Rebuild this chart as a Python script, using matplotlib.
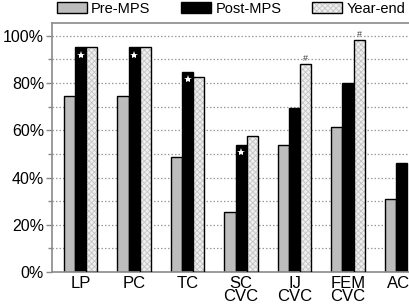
import numpy as np
import matplotlib.pyplot as plt
import matplotlib.transforms as mtransforms
from matplotlib.patches import Patch
from matplotlib.legend_handler import HandlerTuple

plt.rcParams['font.family'] = ['Liberation Sans', 'DejaVu Sans']
plt.rcParams['hatch.linewidth'] = 0.6

groups = ['LP', 'PC', 'TC', 'SC\nCVC', 'IJ\nCVC', 'FEM\nCVC', 'AC']
pre_mps = [74.4, 74.4, 48.5, 25.3, 53.8, 61.4, 30.7]
post_mps = [95.0, 95.0, 84.8, 53.8, 69.6, 79.8, 46.2]
year_end = [95.0, 95.0, 82.7, 57.4, 87.8, 98.0, np.nan]
star_on_post = [True, True, True, True, False, False, False]
hash_on_year = [False, False, False, False, True, True, False]

x = np.arange(len(groups))
w = 0.208
pre_col = '#bdbdbd'
ye_col = '#efefef'
ye_hatch = '#c4c4c4'

fig = plt.figure(figsize=(4.09, 3.04), dpi=100)
ax = fig.add_axes([0.128, 0.105, 0.872, 0.819])

for y in range(10, 101, 10):
    ax.axhline(y, color='#9a9a9a', linestyle=(0, (1.2, 1.6)), linewidth=0.9, zorder=0)

ax.bar(x - w, pre_mps, w, color=pre_col, edgecolor='black', linewidth=1.0, zorder=2)
ax.bar(x, post_mps, w, color='black', edgecolor='black', linewidth=1.0, zorder=2)
# year-end: hatched fill first, then a black outline on top
ax.bar(x + w, year_end, w, color=ye_col, edgecolor=ye_hatch, hatch='xxxxxx', linewidth=0, zorder=2)
ax.bar(x + w, year_end, w, color='none', edgecolor='black', linewidth=1.0, zorder=3)

for i in range(len(groups)):
    if star_on_post[i]:
        ax.plot(x[i], post_mps[i] - 3.0, marker='*', color='white', markersize=6,
                markeredgewidth=0, zorder=4)
    if hash_on_year[i]:
        ax.text(x[i] + w, year_end[i] + 0.6, '#', ha='center', va='bottom',
                fontsize=6.5, color='#444444', zorder=4)

ax.set_xlim(-0.53, 6.14)
ax.set_ylim(0, 105.3)
ax.set_yticks(range(0, 101, 20))
ax.set_yticklabels([f'{v}%' for v in range(0, 101, 20)], fontsize=11.5)
ax.set_yticks(range(10, 100, 20), minor=True)
ax.tick_params(axis='y', which='major', length=4, color='#888888', width=1, pad=2)
ax.tick_params(axis='y', which='minor', length=3, color='#888888', width=1)
ax.set_xticks(x)
ax.set_xticklabels(groups, fontsize=12, linespacing=0.85)
ax.tick_params(axis='x', length=0, pad=3)

# last label sits at the picture edge, nudge it left a little
last = ax.get_xticklabels()[-1]
last.set_transform(last.get_transform() +
                   mtransforms.ScaledTranslation(-3 / 100, 0, fig.dpi_scale_trans))

for s in ['left', 'top', 'bottom']:
    ax.spines[s].set_color('#8a8a8a')
    ax.spines[s].set_linewidth(1.2)
ax.spines['right'].set_visible(False)

handles = [
    Patch(facecolor=pre_col, edgecolor='black', linewidth=1.0),
    Patch(facecolor='black', edgecolor='black', linewidth=1.0),
    (Patch(facecolor=ye_col, edgecolor=ye_hatch, hatch='xxxxxx', linewidth=0),
     Patch(facecolor='none', edgecolor='black', linewidth=1.0)),
]
fig.legend(handles, ['Pre-MPS', 'Post-MPS', 'Year-end'], loc='center',
           bbox_to_anchor=(0.565, 0.972), ncol=3, frameon=False, fontsize=10.5,
           handlelength=2.05, handleheight=0.75, handletextpad=0.3, columnspacing=2.1,
           borderaxespad=0, borderpad=0,
           handler_map={tuple: HandlerTuple(ndivide=1, pad=0)})

fig.savefig('out.png', dpi=100)
